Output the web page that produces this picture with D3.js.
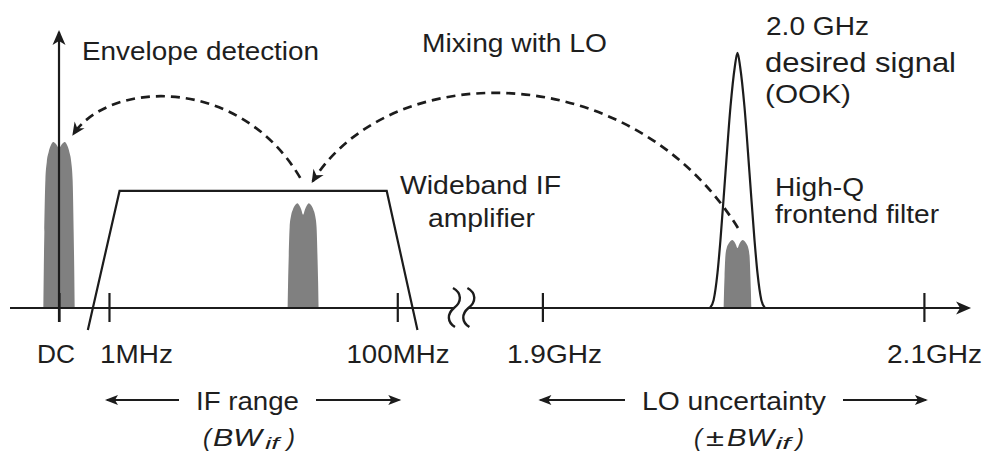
<!DOCTYPE html>
<html>
<head>
<meta charset="utf-8">
<script src="https://cdn.jsdelivr.net/npm/d3@7"></script>
<style>
  html, body { margin: 0; padding: 0; background: #fff; }
  svg { display: block; }
  text { font-family: 'Liberation Sans', Arial, Helvetica, sans-serif; fill: #1e1e1e; }
</style>
</head>
<body>
<div id="chart"></div>
<script>
(function () {
    'use strict'

    // frequency axis ticks (diagram units, 0..100 along the axis)
    var tickLabels = ['DC', '1MHz', '100MHz', '1.9GHz', '2.1GHz']
    var tickValues = [5.1, 10.3, 40.3, 55.4, 95.1]

    // gray OOK pulses: baseband, IF, RF
    var pulseCentres = [5.1, 30.5, 75.7]
    var pulseHalfWidths = [1.63, 1.61, 1.44]
    var pulsePeaks = [59.7, 37.7, 24.5]
    var pulseDips = [0.96, 0.89, 0.88]

    // normalised pulse outline, left half
    var profileU = [-1, -0.97, -0.935, -0.87, -0.78, -0.66, -0.52, -0.37, -0.24, -0.12, 0]
    var profileH = [0, 0.25, 0.46, 0.77, 0.88, 0.94, 0.98, 1, 1, 1, 1]
    var profileNotch = [0, 0, 0, 0, 0, 0, 0, 0, 0.2, 0.55, 1]

    // wideband IF amplifier response
    var ampX = [8.1, 11.4, 39.2, 42.4]
    var ampY = [-7.9, 42.1, 42.1, -7.9]

    // high-Q frontend filter, half profile from the centre outwards
    var filterCentre = 75.7
    var filterOffsets = [0, 0.28, 0.73, 1.25, 1.77, 2.08, 2.48, 2.86]
    var filterGain = [91.8, 86.7, 72.3, 48.6, 24.5, 12.6, 2.9, 0]

    // dashed conversion arrows: start, control 1, control 2, end
    var mixArcs = [
        [[30.2, 46.8], [23.9, 83.8], [10.4, 82.0], [6.6, 62.6]],
        [[75.75, 28.8], [64.5, 91.0], [39.5, 90.0], [31.5, 45.6]]
    ]

    var width = 988,
        height = 455

    var xs = d3.scaleLinear().domain([0, 100]).range([10, 971])
    var ys = d3.scaleLinear().domain([0, 100]).range([308, 30])

    var svg = d3.select('#chart')
        .append('svg')
        .attr('width', width)
        .attr('height', height)

    var ink = '#1c1c1c'
    var defs = svg.append('defs')

    function marker(id, len, half, notch) {
        defs.append('marker')
            .attr('id', id)
            .attr('viewBox', [-len - 1, -half - 1, len + 2, 2 * half + 2].join(' '))
            .attr('refX', -2)
            .attr('refY', 0)
            .attr('markerWidth', len + 2)
            .attr('markerHeight', 2 * half + 2)
            .attr('markerUnits', 'userSpaceOnUse')
            .attr('orient', 'auto')
            .append('path')
            .attr('d', 'M0,0L' + (-len) + ',' + (-half) + 'L' + (-len + notch) + ',0L' + (-len) + ',' + half + 'Z')
            .attr('fill', ink)
    }
    marker('axisHead', 15, 6.5, 4)
    marker('arcHead', 13, 6, 4)
    marker('rangeHead', 13, 5, 3)

    //Pulses
    var area = d3.area()
        .x(function (d) { return xs(d[0]) })
        .y0(ys(0))
        .y1(function (d) { return ys(d[1]) })
        .curve(d3.curveMonotoneX)

    pulseCentres.forEach(function (c, i) {
        var pts = []
        profileU.forEach(function (u, k) {
            pts.push([c + u * pulseHalfWidths[i], pulsePeaks[i] * (profileH[k] - (1 - pulseDips[i]) * profileNotch[k])])
        })
        for (var k = profileU.length - 2; k >= 0; k--) {
            pts.push([c - profileU[k] * pulseHalfWidths[i], pulsePeaks[i] * (profileH[k] - (1 - pulseDips[i]) * profileNotch[k])])
        }
        svg.append('path')
            .attr('d', area(pts))
            .attr('fill', '#808080')
    })

    var line = d3.line()
        .x(function (d) { return xs(d[0]) })
        .y(function (d) { return ys(d[1]) })

    //Filter
    var filterPts = []
    for (var k = filterOffsets.length - 1; k > 0; k--) filterPts.push([filterCentre - filterOffsets[k], filterGain[k]])
    filterOffsets.forEach(function (o, k) { filterPts.push([filterCentre + o, filterGain[k]]) })
    svg.append('path')
        .attr('d', line.curve(d3.curveMonotoneX)(filterPts))
        .attr('fill', 'none')
        .attr('stroke', ink)
        .attr('stroke-width', 2.2)

    //Amplifier
    svg.append('path')
        .attr('d', line.curve(d3.curveLinear)(ampX.map(function (x, i) { return [x, ampY[i]] })))
        .attr('fill', 'none')
        .attr('stroke', ink)
        .attr('stroke-width', 2.2)
        .attr('stroke-linejoin', 'miter')

    //Frequency axis with break
    var breakAt = [46.2, 47.7]
    svg.append('path')
        .attr('d', line([[0, 0], [breakAt[0], 0]]))
        .attr('stroke', ink).attr('stroke-width', 2.2)
    svg.append('path')
        .attr('d', line([[breakAt[1], 0], [99.8, 0]]))
        .attr('stroke', ink).attr('stroke-width', 2.2)
        .attr('marker-end', 'url(#axisHead)')

    breakAt.forEach(function (b) {
        var cx = xs(b), cy = ys(0)
        var p = d3.path()
        p.moveTo(cx - 1, cy - 20)
        p.bezierCurveTo(cx + 8, cy - 15, cx + 8, cy - 6, cx, cy)
        p.bezierCurveTo(cx - 7, cy + 6, cx - 7, cy + 14, cx + 1, cy + 19)
        svg.append('path')
            .attr('d', p.toString())
            .attr('fill', 'none')
            .attr('stroke', ink)
            .attr('stroke-width', 2.4)
    })

    //Vertical axis
    svg.append('path')
        .attr('d', line([[tickValues[0], -5], [tickValues[0], 99.3]]))
        .attr('stroke', ink).attr('stroke-width', 2.2)
        .attr('marker-end', 'url(#axisHead)')

    //Ticks and tick labels
    var labelDx = [-3.6, 27, 0.2, 11.6, 10.1]
    var labelLen = [38, 73, 103, 95, 95]
    var axis = d3.axisBottom(xs)
        .tickValues(tickValues)
        .tickFormat(function (d, i) { return tickLabels[i] })
        .tickSize(29)
        .tickSizeOuter(0)

    var gAxis = svg.append('g')
        .attr('transform', 'translate(0,' + (ys(0) - 15) + ')')
        .call(axis)
    gAxis.select('.domain').remove()
    gAxis.selectAll('.tick line').attr('stroke', ink).attr('stroke-width', 2.2)
    gAxis.selectAll('.tick text')
        .attr('y', 70)
        .attr('dy', 0)
        .attr('dx', function (d, i) { return labelDx[i] })
        .attr('font-size', 25)
        .attr('textLength', function (d, i) { return labelLen[i] })
        .attr('lengthAdjust', 'spacingAndGlyphs')
        .attr('fill', '#1e1e1e')

    //Dashed arcs
    mixArcs.forEach(function (a) {
        var p = d3.path()
        p.moveTo(xs(a[0][0]), ys(a[0][1]))
        p.bezierCurveTo(xs(a[1][0]), ys(a[1][1]), xs(a[2][0]), ys(a[2][1]), xs(a[3][0]), ys(a[3][1]))
        svg.append('path')
            .attr('d', p.toString())
            .attr('fill', 'none')
            .attr('stroke', ink)
            .attr('stroke-width', 2.7)
            .attr('stroke-dasharray', '9,6')
            .attr('marker-end', 'url(#arcHead)')
    })

    //Text
    function label(x, y, txt, size, len, opts) {
        opts = opts || {}
        var t = svg.append('text')
            .attr('x', x)
            .attr('y', y)
            .attr('font-size', size)
            .attr('text-anchor', opts.anchor || 'start')
            .text(txt)
        if (len) t.attr('textLength', len).attr('lengthAdjust', 'spacingAndGlyphs')
        if (opts.italic) t.attr('font-style', 'italic')
        return t
    }

    label(82, 60, 'Envelope detection', 25, 237)
    label(422, 52, 'Mixing with LO', 25, 185)
    label(766, 35, '2.0 GHz', 25, 103)
    label(765, 72, 'desired signal', 27.5, 191)
    label(765, 103, '(OOK)', 26.5, 86)
    label(400, 194, 'Wideband IF', 25, 161)
    label(428, 227, 'amplifier', 25, 107)
    label(775, 196, 'High-Q', 25, 89)
    label(775, 222.5, 'frontend filter', 25, 164)

    //Range arrows
    var rangeY = 400
    var ranges = [
        { text: 'IF range', centre: 247.5, len: 103, from: tickValues[1], to: tickValues[2] },
        { text: 'LO uncertainty', centre: 734, len: 184, from: tickValues[3], to: tickValues[4] }
    ]
    ranges.forEach(function (r) {
        label(r.centre, 410, r.text, 25, r.len, { anchor: 'middle' })
        var left = r.centre - r.len / 2 - 17,
            right = r.centre + r.len / 2 + 17
        svg.append('line')
            .attr('x1', left).attr('y1', rangeY)
            .attr('x2', xs(r.from) - 2).attr('y2', rangeY)
            .attr('stroke', ink).attr('stroke-width', 2.2)
            .attr('marker-end', 'url(#rangeHead)')
        svg.append('line')
            .attr('x1', right).attr('y1', rangeY)
            .attr('x2', xs(r.to) + 2).attr('y2', rangeY)
            .attr('stroke', ink).attr('stroke-width', 2.2)
            .attr('marker-end', 'url(#rangeHead)')
    })

    // ( BW if ) and (± BW if )
    label(203, 446, '(', 24, null, { italic: true })
    label(213, 446, 'BW', 24, 49, { italic: true })
    label(265, 449, 'if', 17, 14, { italic: true })
    label(287, 446, ')', 24, null, { italic: true })

    label(694, 446, '(', 24, null, { italic: true })
    label(706, 446, '±', 23, 18)
    label(727, 446, 'BW', 24, 47, { italic: true })
    label(775.5, 449, 'if', 17, 15, { italic: true })
    label(796, 446, ')', 24, null, { italic: true })
})()
</script>
</body>
</html>
